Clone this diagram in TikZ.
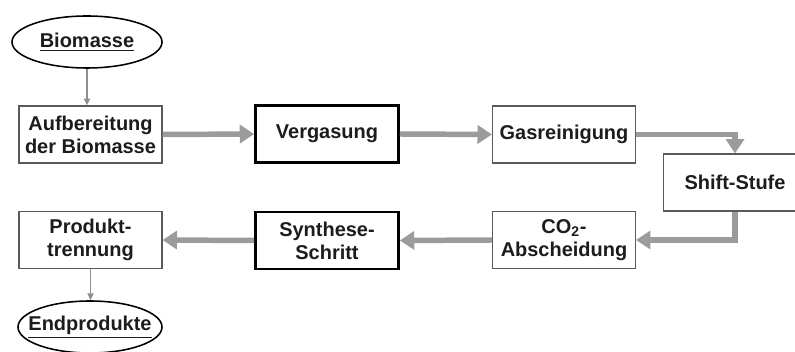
\documentclass[tikz,border=0pt]{standalone}
\usepackage{fontspec}
\setmainfont{Liberation Sans}
\usetikzlibrary{shapes.geometric, arrows.meta, positioning}
\definecolor{flowgray}{HTML}{9B9B9B}
\definecolor{thingray}{HTML}{8E8E8E}
\definecolor{boxline}{HTML}{5A5A5A}
\definecolor{txt}{HTML}{1C1C1C}

\begin{document}
\begin{tikzpicture}[
    x=0.025cm, y=-0.025cm,
    every node/.style={font=\fontsize{14.2pt}{16.4pt}\selectfont\bfseries, text=txt, align=center},
    stage/.style={draw=boxline, line width=0.8pt, fill=white,
                  minimum width=3.575cm, minimum height=1.425cm, inner sep=2pt},
    keystage/.style={stage, draw=black, line width=1.9pt},
    terminal/.style={ellipse, draw=black, line width=1.1pt, fill=white,
                     minimum width=3.75cm, minimum height=1.3cm, inner sep=0pt},
    flow/.style={-{Triangle[length=0.36cm, width=0.45cm]}, line width=3.9pt, color=flowgray},
    feed/.style={-{Triangle[length=0.17cm, width=0.15cm]}, line width=1.2pt, color=thingray}
]
    \clip (0,0) rectangle (795,352);

    \node[terminal] (bio)  at (87,42)   {\underline{Biomasse}};
    \node[stage]    (auf)  at (90.5,134.5) {Aufbereitung\\der Biomasse};
    \node[keystage] (verg) at (327,134)  {Vergasung};
    \node[stage]    (gas)  at (564,134.5) {Gasreinigung};
    \node[stage]    (shift) at (735,182.5) {Shift-Stufe};
    \node[stage]    (co2)  at (564,240)  {CO\textsubscript{2}-\\Abscheidung};
    \node[keystage] (syn)  at (327,240.5) {Synthese-\\Schritt};
    \node[stage]    (prod) at (90.5,240) {Produkt-\\trennung};
    % text is wider than the ellipse would allow, so squeeze it
    \node[terminal, minimum width=3.6cm, inner xsep=-0.27cm] (endp) at (90,327) {\underline{Endprodukte}};

    % main process chain
    \draw[flow] (auf.east) -- (verg.west);
    \draw[flow] (verg.east) -- (gas.west);
    \draw[flow] (gas.east) -| (shift.north);
    \draw[flow] (shift.south) |- (co2.east);
    \draw[flow] (co2.west) -- (syn.east);
    \draw[flow] (syn.west) -- (prod.east);

    % input and output
    \draw[feed] (bio.south) -- (bio.south |- auf.north);
    \draw[feed] (prod.south) -- (prod.south |- endp.north);
\end{tikzpicture}
\end{document}
